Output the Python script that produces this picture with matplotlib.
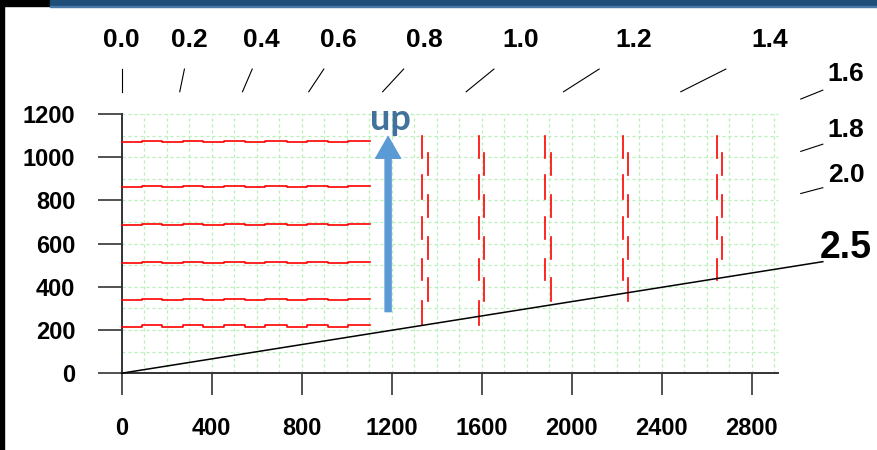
import matplotlib
matplotlib.use("Agg")
import matplotlib.pyplot as plt
from matplotlib.patches import Rectangle, FancyArrow
import numpy as np

# axis ticks
x_ticks = [0, 400, 800, 1200, 1600, 2000, 2400, 2800]
y_ticks = [0, 200, 400, 600, 800, 1000, 1200]

# rays from the origin: label and run (x per unit of y)
ray_labels = ['0.0', '0.2', '0.4', '0.6', '0.8', '1.0', '1.2', '1.4', '1.6', '1.8', '2.0', '2.5']
ray_run = [0.0, 0.198, 0.412, 0.638, 0.890, 1.175, 1.507, 1.907, 2.378, 2.939, 3.628, 6.035]
main_ray_end_x = 3116

# red horizontal lines (stepped), levels and step breakpoints along x
h_levels = [1069, 860, 688, 511, 337, 216]
h_breaks = [0, 89, 178, 271, 363, 455, 548, 637, 733, 822, 918, 1007, 1103]
h_step = 5

# red vertical lines: left / right x and number of dashes drawn
v_left_x = [1333, 1588, 1881, 2227, 2644]
v_right_x = [1363, 1612, 1907, 2252, 2667]
v_count = [9, 9, 8, 8, 7]
v_left_segs = [(1098, 994), (916, 808), (723, 620), (531, 431), (335, 223)]
v_right_segs = [(1021, 916), (824, 723), (631, 531), (443, 335)]

# arrow
arrow_x = 1184
arrow_y0, arrow_y1 = 285, 1095

W, H = 877, 450
fig = plt.figure(figsize=(W / 100, H / 100), dpi=100)
ax = fig.add_axes([0, 0, 1, 1])
# pixel scale: 0.225 px per x unit, 0.216 px per y unit, origin at (121.7, 373.2)
ax.set_xlim(-121.7 / 0.225, (W - 121.7) / 0.225)
ax.set_ylim((373.2 - H) / 0.216, 373.2 / 0.216)

# grid
grid_col = '#b6f0b6'
ax.vlines(np.arange(100, 3000, 100), 0, 1200, colors=grid_col, linestyles=(0, (2.4, 2.4)), lw=0.9, zorder=1)
ax.hlines(np.arange(100, 1300, 100), 0, 2918, colors=grid_col, linestyles=(0, (2.4, 2.4)), lw=0.9, zorder=1)

# axes
for s in ['top', 'right']:
    ax.spines[s].set_visible(False)
ax.spines['left'].set_position(('data', 0))
ax.spines['bottom'].set_position(('data', 0))
ax.spines['left'].set_bounds(0, 1200)
ax.spines['bottom'].set_bounds(0, 2918)
for s in ['left', 'bottom']:
    ax.spines[s].set_color('#333333')
    ax.spines[s].set_linewidth(1.4)
ax.set_xticks(x_ticks)
ax.set_yticks(y_ticks)
ax.set_xticklabels([str(v) for v in x_ticks], fontsize=17, fontweight='bold', family='Liberation Sans')
ax.set_yticklabels([str(v) for v in y_ticks], fontsize=17, fontweight='bold', family='Liberation Sans')
ax.tick_params(axis='x', direction='out', length=15.8, width=1.2, color='#333333', pad=15.5)
ax.tick_params(axis='y', direction='out', length=17.5, width=1.2, color='#333333', pad=16)

# red stepped horizontal lines
for lev in h_levels:
    ys = [lev + (h_step if i % 2 else 0) for i in range(len(h_breaks) - 1)]
    ys.append(ys[-1])
    ax.plot(h_breaks, ys, drawstyle='steps-post', color='red', lw=1.2, zorder=3)

# red zigzag vertical lines
for xl, xr, n in zip(v_left_x, v_right_x, v_count):
    segs = []
    for i in range(len(v_left_segs)):
        segs.append((xl, v_left_segs[i]))
        if i < len(v_right_segs):
            segs.append((xr, v_right_segs[i]))
    for xx, (y_top, y_bot) in segs[:n]:
        ax.plot([xx, xx], [y_top, y_bot], color='red', lw=1.2, zorder=3)

# rays and their labels
for lab, k in zip(ray_labels[:-1], ray_run[:-1]):
    if k * 1303 <= 3018:
        ax.plot([k * 1303, k * 1408], [1303, 1408], color='black', lw=0.8, zorder=4)
        ax.text(k * 1510, 1510, lab, ha='center', va='baseline', fontsize=19,
                fontweight='bold', family='Liberation Sans')
    else:
        ax.plot([3018, 3116], [3018 / k, 3116 / k], color='black', lw=0.8, zorder=4)
        ax.text(3219, 3219 / k, lab, ha='center', va='baseline',
                fontsize=19, fontweight='bold', family='Liberation Sans')
ax.plot([0, main_ray_end_x], [0, main_ray_end_x / ray_run[-1]], color='black', lw=1.1, zorder=4)
ax.text(3219, 3219 / ray_run[-1], ray_labels[-1], ha='center', va='baseline', fontsize=27,
        fontweight='bold', family='Liberation Sans')

# arrow and "up"
ax.add_patch(FancyArrow(arrow_x, arrow_y0, 0, arrow_y1 - arrow_y0, width=27, head_width=110,
                        head_length=100, length_includes_head=True, color='#5b9bd5',
                        lw=1, joinstyle='round', zorder=5))
ax.text(1193, 1173, 'up', ha='center', va='center', fontsize=26, fontweight='bold',
        family='Lato', color='#41719c', zorder=5)

# slide frame bits
fig.add_artist(Rectangle((0, 0), 4 / W, 1, transform=fig.transFigure, color='black'))
fig.add_artist(Rectangle((0, 1 - 6 / H), 50 / W, 6 / H, transform=fig.transFigure, color='black'))
fig.add_artist(Rectangle((50 / W, 1 - 6 / H), 1, 6 / H, transform=fig.transFigure, color='#1f4e79'))
fig.add_artist(Rectangle((50 / W, 1 - 7 / H), 1, 1 / H, transform=fig.transFigure, color='#4a78a8'))

fig.savefig('out.png', dpi=100, facecolor='white')
